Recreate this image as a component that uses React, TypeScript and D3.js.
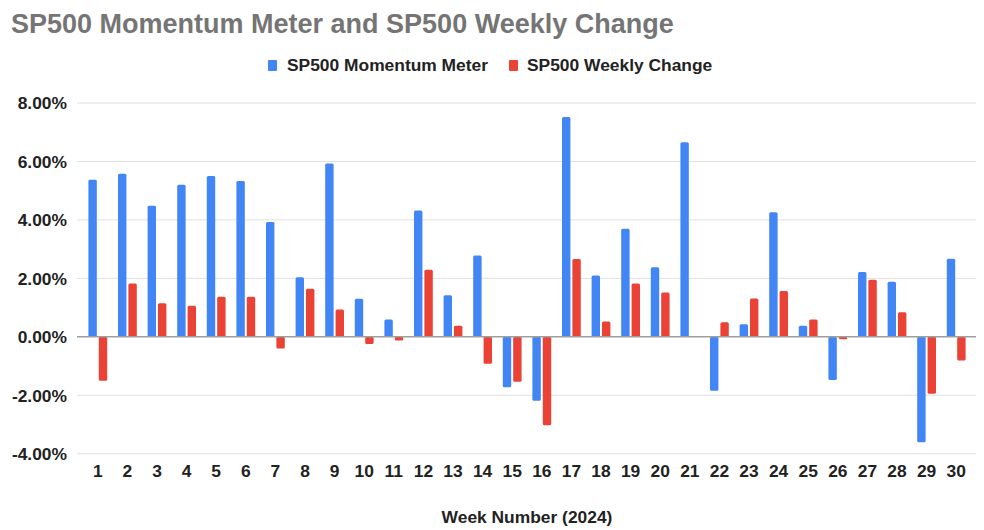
import React from "react";
import * as d3 from "d3";

const weeks = d3.range(1, 31).map(String);
const momentum = [
  5.37, 5.58, 4.48, 5.2, 5.5, 5.33, 3.93, 2.04, 5.93, 1.3, 0.59, 4.32, 1.42, 2.78, -1.73,
  -2.19, 7.52, 2.1, 3.7, 2.38, 6.66, -1.85, 0.43, 4.26, 0.38, -1.48, 2.22, 1.88, -3.61, 2.67,
];
const weekly = [
  -1.5, 1.82, 1.15, 1.06, 1.37, 1.37, -0.4, 1.64, 0.93, -0.25, -0.13, 2.29, 0.38, -0.92, -1.54,
  -3.03, 2.66, 0.52, 1.82, 1.52, 0.02, 0.5, 1.31, 1.57, 0.59, -0.08, 1.95, 0.84, -1.95, -0.81,
];
const yTicks = [-4, -2, 0, 2, 4, 6, 8];
const seriesNames = ["SP500 Momentum Meter", "SP500 Weekly Change"];
const colors = ["#4285F4", "#EA4335"];

const W = 984;
const H = 530;
const font = "Arial, 'Liberation Sans', sans-serif";
const labelSize = 17.4;

export default function App() {
  const gridLeft = 77;
  const gridRight = 976;
  const x = d3.scaleBand<string>().domain(weeks).range([83, 971]);
  const groupW = 18.8;
  const x1 = d3.scaleBand<number>().domain([0, 1]).range([0, groupW]).paddingInner(0.19);
  const y = d3.scaleLinear().domain([-4, 8]).range([453.7, 103]);

  const series = [momentum, weekly];

  return (
    <svg
      width={W}
      height={H}
      style={{ position: "absolute", left: 0, top: 0, background: "#fff" }}
      fontFamily={font}
    >
      <text x={11} y={32.5} fontSize={27} fontWeight="bold" fill="#757575">
        SP500 Momentum Meter and SP500 Weekly Change
      </text>

      {/* legend */}
      <g fontSize={labelSize} fontWeight="bold" fill="#222">
        <rect x={268} y={60} width={9} height={11} rx={1} fill={colors[0]} />
        <text x={287} y={71}>{seriesNames[0]}</text>
        <rect x={509} y={60} width={9} height={11} rx={1} fill={colors[1]} />
        <text x={527} y={71}>{seriesNames[1]}</text>
      </g>

      {/* grid */}
      {yTicks.map((t) => (
        <g key={t}>
          {t !== 0 && (
            <line x1={gridLeft} x2={gridRight} y1={y(t)} y2={y(t)} stroke="#e0e0e0" strokeWidth={1} />
          )}
          <text
            x={67}
            y={y(t)}
            dy="0.36em"
            textAnchor="end"
            fontSize={labelSize}
            fontWeight="bold"
            fill="#222"
          >
            {t.toFixed(2) + "%"}
          </text>
        </g>
      ))}

      {/* bars */}
      {series.map((vals, si) =>
        vals.map((v, i) => {
          const bx = (x(weeks[i]) as number) + x.bandwidth() / 2 - groupW / 2 + (x1(si) as number);
          const y0 = y(0);
          const yv = y(v);
          return (
            <rect
              key={si + "-" + i}
              x={bx}
              y={Math.min(y0, yv)}
              width={x1.bandwidth()}
              height={Math.max(0.6, Math.abs(yv - y0))}
              rx={1.5}
              fill={colors[si]}
            />
          );
        })
      )}

      <line x1={gridLeft} x2={gridRight} y1={y(0)} y2={y(0)} stroke="#9e9e9e" strokeWidth={1.5} />

      {/* x ticks */}
      {weeks.map((w) => (
        <text
          key={w}
          x={(x(w) as number) + x.bandwidth() / 2}
          y={476.5}
          textAnchor="middle"
          fontSize={labelSize}
          fontWeight="bold"
          fill="#222"
        >
          {w}
        </text>
      ))}

      <text x={527} y={522.5} textAnchor="middle" fontSize={labelSize} fontWeight="bold" fill="#222">
        Week Number (2024)
      </text>
    </svg>
  );
}
